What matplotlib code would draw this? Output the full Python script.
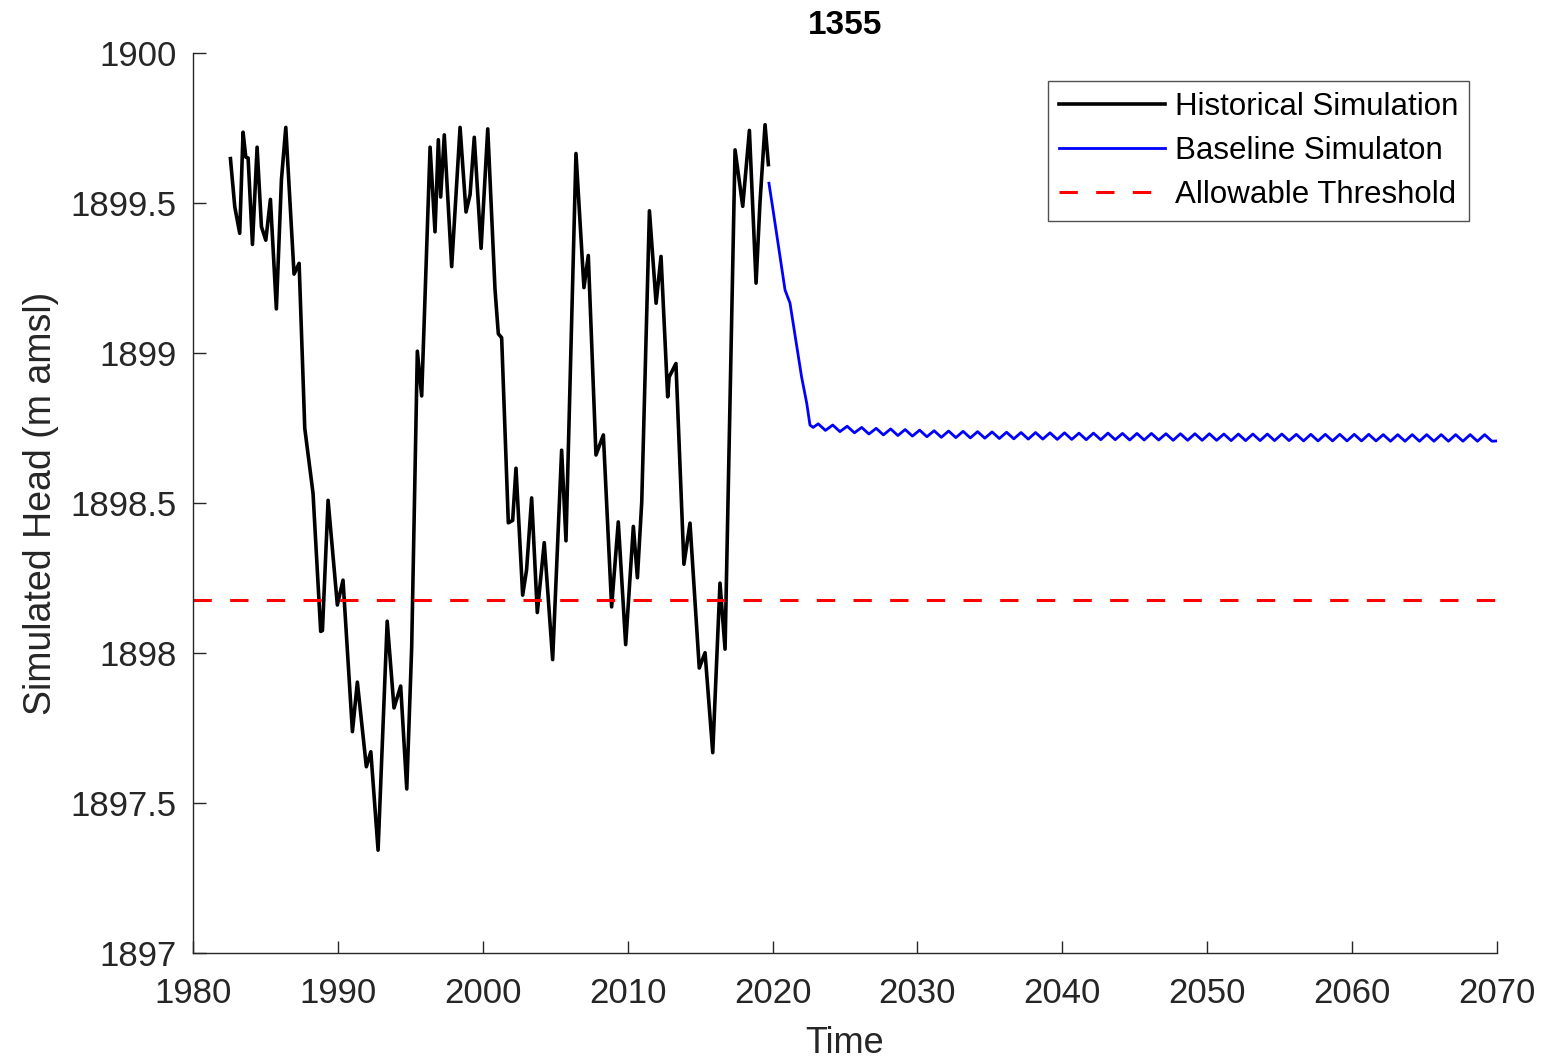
import matplotlib.pyplot as plt

plt.rcParams['font.family'] = ['Liberation Sans', 'DejaVu Sans']

# historical simulation (turning points)
hist_years = [1982.58, 1982.88, 1983.22, 1983.45, 1983.64, 1983.80, 1984.10, 1984.42,
              1984.72, 1985.02, 1985.34, 1985.75, 1986.10, 1986.40, 1986.97, 1987.32,
              1987.71, 1988.28, 1988.81, 1988.93, 1989.32, 1989.96, 1990.35, 1991.00,
              1991.34, 1991.96, 1992.27, 1992.77, 1993.40, 1993.87, 1994.33, 1994.75,
              1995.09, 1995.48, 1995.78, 1996.36, 1996.70, 1996.93, 1997.09, 1997.34,
              1997.85, 1998.43, 1998.84, 1999.12, 1999.41, 1999.88, 2000.34, 2000.84,
              2001.07, 2001.30, 2001.76, 2002.06, 2002.29, 2002.75, 2003.02, 2003.37,
              2003.76, 2004.24, 2004.82, 2005.44, 2005.74, 2006.43, 2006.98, 2007.28,
              2007.81, 2008.32, 2008.89, 2009.35, 2009.86, 2010.39, 2010.67, 2010.97,
              2011.50, 2011.96, 2012.30, 2012.76, 2012.86, 2013.33, 2013.88, 2014.30,
              2014.94, 2015.34, 2015.87, 2016.37, 2016.72, 2017.41, 2017.94, 2018.40,
              2018.86, 2019.13, 2019.48, 2019.71]
hist_head = [1899.648, 1899.487, 1899.399, 1899.736, 1899.653, 1899.650, 1899.362, 1899.686,
             1899.421, 1899.376, 1899.512, 1899.147, 1899.578, 1899.752, 1899.263, 1899.299,
             1898.749, 1898.533, 1898.072, 1898.075, 1898.509, 1898.160, 1898.243, 1897.738,
             1897.903, 1897.621, 1897.671, 1897.343, 1898.106, 1897.817, 1897.890, 1897.547,
             1898.019, 1899.006, 1898.857, 1899.686, 1899.404, 1899.711, 1899.520, 1899.727,
             1899.288, 1899.752, 1899.470, 1899.528, 1899.719, 1899.349, 1899.747, 1899.213,
             1899.064, 1899.051, 1898.434, 1898.442, 1898.616, 1898.193, 1898.277, 1898.517,
             1898.135, 1898.368, 1897.978, 1898.676, 1898.374, 1899.665, 1899.218, 1899.325,
             1898.660, 1898.727, 1898.154, 1898.437, 1898.028, 1898.422, 1898.251, 1898.504,
             1899.474, 1899.166, 1899.322, 1898.854, 1898.920, 1898.965, 1898.296, 1898.433,
             1897.950, 1898.001, 1897.668, 1898.233, 1898.013, 1899.677, 1899.489, 1899.742,
             1899.233, 1899.501, 1899.761, 1899.628]

# baseline simulation: drawdown then small annual wiggle
base_years = [2019.75, 2020.05, 2020.86, 2021.20, 2022.00, 2022.36, 2022.58, 2022.80,
              2023.15, 2023.65, 2024.15, 2024.65, 2025.15, 2025.65, 2026.15, 2026.65,
              2027.15, 2027.65, 2028.15, 2028.65, 2029.15, 2029.65, 2030.15, 2030.65,
              2031.15, 2031.65, 2032.15, 2032.65, 2033.15, 2033.65, 2034.15, 2034.65,
              2035.15, 2035.65, 2036.15, 2036.65, 2037.15, 2037.65, 2038.15, 2038.65,
              2039.15, 2039.65, 2040.15, 2040.65, 2041.15, 2041.65, 2042.15, 2042.65,
              2043.15, 2043.65, 2044.15, 2044.65, 2045.15, 2045.65, 2046.15, 2046.65,
              2047.15, 2047.65, 2048.15, 2048.65, 2049.15, 2049.65, 2050.15, 2050.65,
              2051.15, 2051.65, 2052.15, 2052.65, 2053.15, 2053.65, 2054.15, 2054.65,
              2055.15, 2055.65, 2056.15, 2056.65, 2057.15, 2057.65, 2058.15, 2058.65,
              2059.15, 2059.65, 2060.15, 2060.65, 2061.15, 2061.65, 2062.15, 2062.65,
              2063.15, 2063.65, 2064.15, 2064.65, 2065.15, 2065.65, 2066.15, 2066.65,
              2067.15, 2067.65, 2068.15, 2068.65, 2069.15, 2069.65, 2070.00]
base_head = [1899.566, 1899.471, 1899.210, 1899.167, 1898.921, 1898.832, 1898.760, 1898.752,
             1898.764, 1898.742, 1898.760, 1898.738, 1898.756, 1898.734, 1898.752, 1898.730,
             1898.749, 1898.727, 1898.747, 1898.725, 1898.745, 1898.723, 1898.743, 1898.721,
             1898.741, 1898.719, 1898.740, 1898.718, 1898.739, 1898.717, 1898.738, 1898.716,
             1898.737, 1898.715, 1898.736, 1898.714, 1898.735, 1898.713, 1898.735, 1898.713,
             1898.734, 1898.712, 1898.734, 1898.712, 1898.733, 1898.711, 1898.733, 1898.711,
             1898.733, 1898.711, 1898.732, 1898.710, 1898.732, 1898.710, 1898.732, 1898.710,
             1898.731, 1898.709, 1898.731, 1898.709, 1898.731, 1898.709, 1898.731, 1898.709,
             1898.730, 1898.708, 1898.730, 1898.708, 1898.730, 1898.708, 1898.730, 1898.708,
             1898.730, 1898.708, 1898.729, 1898.707, 1898.729, 1898.707, 1898.729, 1898.707,
             1898.729, 1898.707, 1898.729, 1898.707, 1898.729, 1898.707, 1898.728, 1898.706,
             1898.728, 1898.706, 1898.728, 1898.706, 1898.728, 1898.706, 1898.728, 1898.706,
             1898.728, 1898.706, 1898.728, 1898.706, 1898.728, 1898.706, 1898.707]

threshold = 1898.177
x_ticks = [1980, 1990, 2000, 2010, 2020, 2030, 2040, 2050, 2060, 2070]
y_ticks = [1897, 1897.5, 1898, 1898.5, 1899, 1899.5, 1900]
y_tick_labels = ['1897', '1897.5', '1898', '1898.5', '1899', '1899.5', '1900']

fig = plt.figure(figsize=(15.42, 10.60), dpi=100)
ax = fig.add_axes([0.1252, 0.1009, 0.8456, 0.8491])

ax.plot(hist_years, hist_head, color='black', lw=2.6, label='Historical Simulation')
ax.plot(base_years, base_head, color='blue', lw=2.0, label='Baseline Simulaton')
ax.axhline(threshold, color='red', lw=2.2, ls=(0, (6, 6)), label='Allowable Threshold')

ax.set_xlim(1980, 2070)
ax.set_ylim(1897, 1900)
ax.set_xticks(x_ticks)
ax.set_yticks(y_ticks)
ax.set_yticklabels(y_tick_labels)

for side in ['top', 'right']:
    ax.spines[side].set_visible(False)
for side in ['left', 'bottom']:
    ax.spines[side].set_color('#262626')
    ax.spines[side].set_linewidth(1.0)
ax.tick_params(direction='in', length=9, width=1, colors='#262626', labelsize=25)
ax.tick_params(axis='x', pad=17)
ax.tick_params(axis='y', pad=12)

ax.set_title('1355', fontsize=24, fontweight='bold', pad=14)
ax.set_xlabel('Time', fontsize=26, color='#262626', labelpad=12)
ax.set_ylabel('Simulated Head (m amsl)', fontsize=27, color='#262626', labelpad=8)

leg = ax.legend(loc='upper right', fontsize=22.5, frameon=True, fancybox=False,
                handlelength=3.4, labelspacing=0.45, borderaxespad=0.9,
                borderpad=0.35, handletextpad=0.3)
leg.get_frame().set_edgecolor('#262626')
leg.get_frame().set_linewidth(1.0)

fig.savefig('out.png', dpi=100)
